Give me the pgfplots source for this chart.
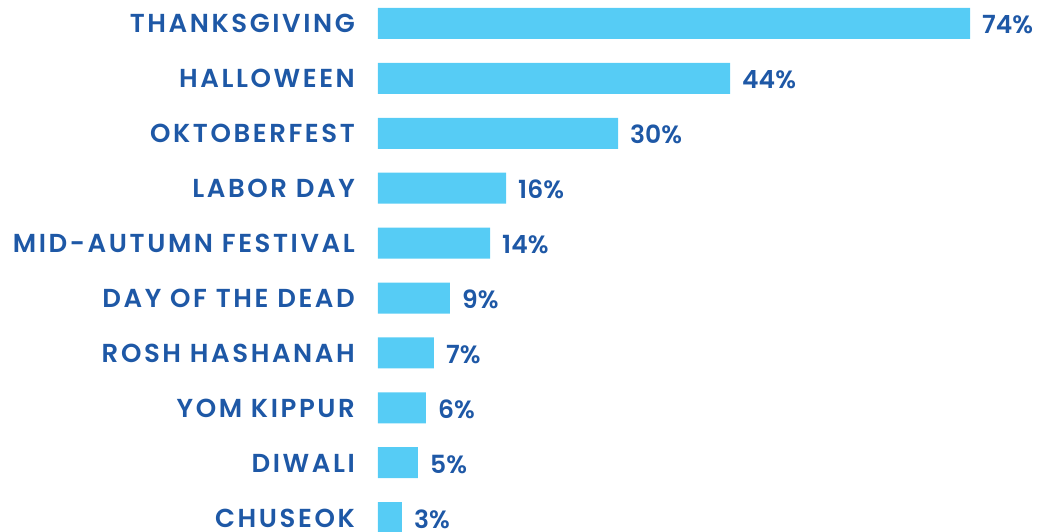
\documentclass[border=0pt]{standalone}
\usepackage{fontspec}
\setmainfont{Poppins}[BoldFont={Poppins SemiBold}]
\newfontfamily\labfont{Poppins SemiBold}[LetterSpace=10]
\newfontfamily\numfont{Poppins SemiBold}
\usepackage{pgfplots}
\pgfplotsset{compat=1.18}
\definecolor{barblue}{RGB}{86,204,245}
\definecolor{txtblue}{RGB}{30,88,166}
\begin{document}
\begin{tikzpicture}
\useasboundingbox (0,0) rectangle (1053pt,532pt);
\clip (0,0) rectangle (1053pt,532pt);
\begin{axis}[
  at={(378pt,0pt)}, anchor=south west,
  scale only axis, width=675pt, height=532pt,
  xmin=0, xmax=84.375,
  ymin=-0.428, ymax=9.262, y dir=reverse,
  xbar, bar width=31pt, bar shift=0pt,
  axis line style={draw=none},
  major tick length=0pt,
  xtick=\empty,
  ytick={0,1,2,3,4,5,6,7,8,9},
  yticklabels={THANKSGIVING,HALLOWEEN,OKTOBERFEST,LABOR DAY,MID-AUTUMN FESTIVAL,DAY OF THE DEAD,ROSH HASHANAH,YOM KIPPUR,DIWALI,CHUSEOK},
  yticklabel style={font=\labfont\fontsize{26}{28}\selectfont, text=txtblue, anchor=base east, inner sep=0pt, xshift=-23pt, yshift=-9.5pt},
  point meta=x,
  nodes near coords={\pgfmathprintnumber[int detect,assume math mode=true]{\pgfplotspointmeta}\%},
  every node near coord/.append style={font=\numfont\fontsize{25}{27}\selectfont, text=txtblue, anchor=base west, inner sep=0pt, xshift=12pt, yshift=-10.5pt},
]
\addplot[fill=barblue, draw=none] coordinates {
 (74,0) (44,1) (30,2) (16,3) (14,4) (9,5) (7,6) (6,7) (5,8) (3,9)
};
\end{axis}
\end{tikzpicture}
\end{document}
